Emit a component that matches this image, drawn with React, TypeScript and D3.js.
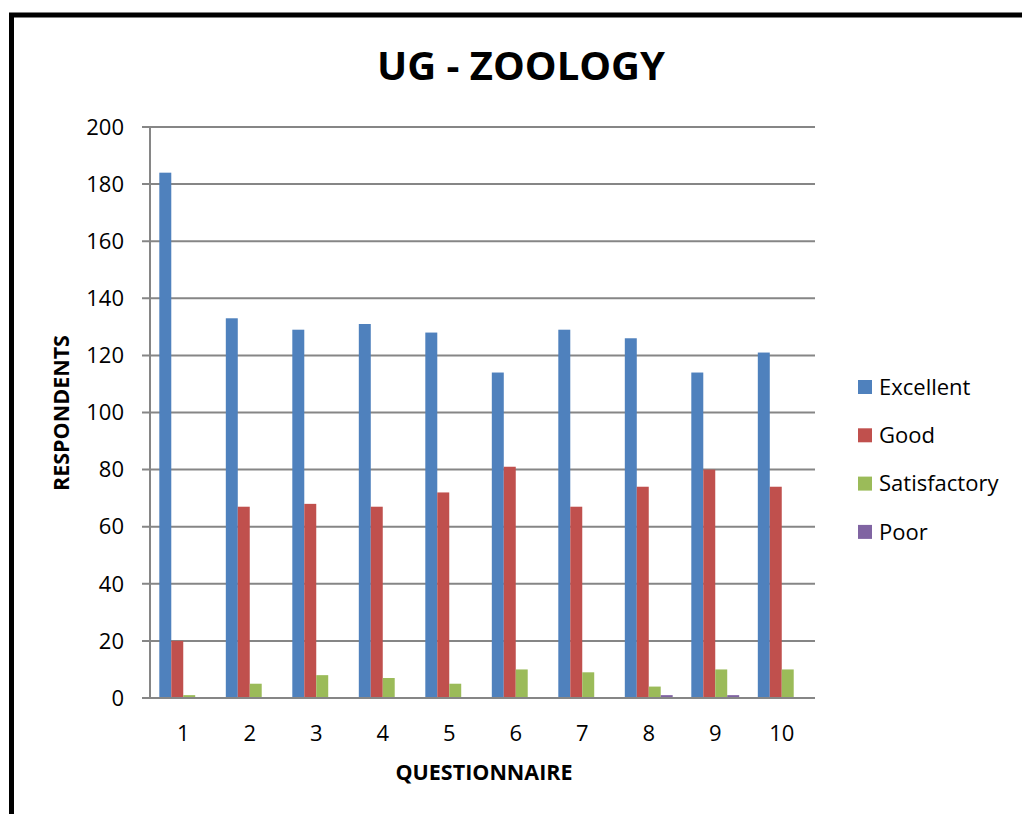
import React from "react";
import * as d3 from "d3";

const categories = ["1", "2", "3", "4", "5", "6", "7", "8", "9", "10"];
const seriesNames = ["Excellent", "Good", "Satisfactory", "Poor"];
const excellent = [184, 133, 129, 131, 128, 114, 129, 126, 114, 121];
const good = [20, 67, 68, 67, 72, 81, 67, 74, 80, 74];
const satisfactory = [1, 5, 8, 7, 5, 10, 9, 4, 10, 10];
const poor = [0, 0, 0, 0, 0, 0, 0, 1, 1, 0];
const yTicks = [0, 20, 40, 60, 80, 100, 120, 140, 160, 180, 200];
const colors = ["#4F81BD", "#C0504D", "#9BBB59", "#8064A2"];

const seriesValues = [excellent, good, satisfactory, poor];

export default function App() {
  const W = 1022;
  const H = 814;
  const left = 150;
  const right = 815;
  const top = 127;
  const bottom = 698;
  const font = "'Open Sans', Calibri, sans-serif";

  const x = d3.scaleBand<string>().domain(categories).range([left, right]).paddingInner(0.28).paddingOuter(0.14);
  const xInner = d3.scaleBand<string>().domain(seriesNames).range([0, x.bandwidth()]).padding(0);
  const xc = d3.scaleBand<string>().domain(categories).range([left, right]);
  const y = d3.scaleLinear().domain([0, 200]).range([bottom, top]);

  return (
    <div style={{ position: "absolute", left: 0, top: 0 }}>
      <svg width={W} height={H} style={{ display: "block", background: "#fff" }}>
        <rect x={11.5} y={15} width={1100} height={900} fill="none" stroke="#000" strokeWidth={5} />
        <text x={521} y={80} textAnchor="middle" fontFamily={font} fontWeight="bold" fontSize={40} fill="#000">
          UG - ZOOLOGY
        </text>
        {yTicks.map((t) => (
          <g key={t}>
            <line x1={142} x2={right} y1={y(t)} y2={y(t)} stroke="#868686" strokeWidth={2} />
            <text x={124} y={y(t)} dy="0.35em" textAnchor="end" fontFamily={font} fontSize={22} fill="#000">
              {t}
            </text>
          </g>
        ))}
        <line x1={left} x2={left} y1={top} y2={bottom} stroke="#868686" strokeWidth={2} />
        {seriesValues.map((vals, si) =>
          vals.map((v, i) => (
            <rect
              key={`${si}-${i}`}
              x={(x(categories[i]) as number) + (xInner(seriesNames[si]) as number)}
              y={y(v)}
              width={xInner.bandwidth()}
              height={bottom - y(v)}
              fill={colors[si]}
            />
          ))
        )}
        <line x1={142} x2={right} y1={bottom} y2={bottom} stroke="#868686" strokeWidth={2} />
        {categories.map((c) => (
          <text key={c} x={(xc(c) as number) + xc.bandwidth() / 2} y={741} textAnchor="middle" fontFamily={font} fontSize={22} fill="#000">
            {c}
          </text>
        ))}
        <text x={484} y={780} textAnchor="middle" fontFamily={font} fontWeight="bold" fontSize={21.5} fill="#000">
          QUESTIONNAIRE
        </text>
        <text
          transform={`translate(69,413) rotate(-90)`}
          textAnchor="middle"
          fontFamily={font}
          fontWeight="bold"
          fontSize={21.5}
          fill="#000"
        >
          RESPONDENTS
        </text>
        {seriesNames.map((s, i) => {
          const cy = 387 + i * 48.3;
          return (
            <g key={s}>
              <rect x={858} y={cy - 7} width={14} height={14} fill={colors[i]} />
              <text x={879} y={cy} dy="0.35em" fontFamily={font} fontSize={22} fill="#000">
                {s}
              </text>
            </g>
          );
        })}
      </svg>
    </div>
  );
}
